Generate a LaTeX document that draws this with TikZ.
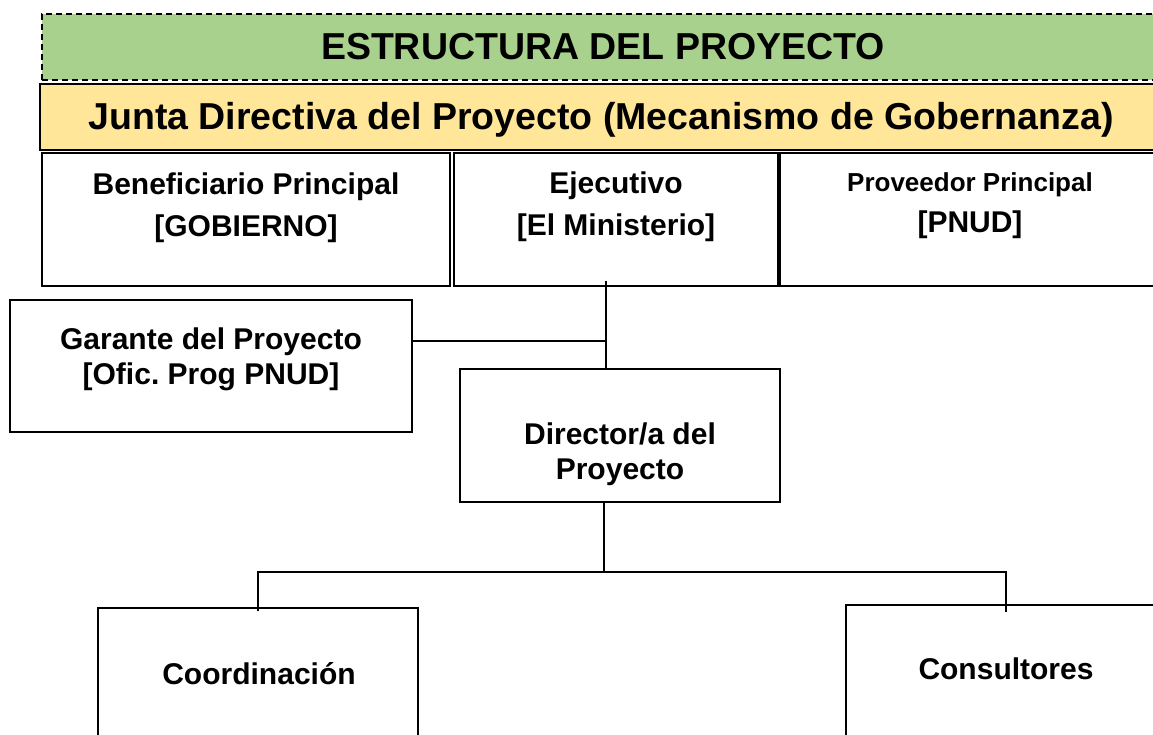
\documentclass[tikz,border=0pt]{standalone}
\usepackage{fontspec}
\setmainfont{Liberation Sans}
\frenchspacing
\definecolor{verde}{HTML}{A9D18E}
\definecolor{amarillo}{HTML}{FFE699}

\begin{document}
\begin{tikzpicture}[x=1pt, y=-1pt, line width=1.5pt, inner sep=0pt,
	box/.style={draw, rectangle, minimum width=320pt, minimum height=133pt},
	banner/.style={draw, rectangle, minimum width=1122pt, minimum height=66pt},
	big text/.style={anchor=base, font=\fontsize{37.5}{45}\selectfont\bfseries},
	box text/.style={anchor=north, align=center, font=\fontsize{30}{42}\selectfont\bfseries}]
	\useasboundingbox (0,0) rectangle (1153,735);
	% cabecera
	\node[banner, fill=verde, dash pattern=on 6pt off 4pt] (titulo) at (603,47) {};
	\node[big text] (titulo-t) at (603,60) {ESTRUCTURA DEL PROYECTO};
	\node[banner, fill=amarillo, line width=2.5pt] (junta) at (601,117) {};
	\node[big text] (junta-t) at (601,130) {Junta Directiva del Proyecto (Mecanismo de Gobernanza)};
	% junta directiva
	\node[box, minimum width=408pt] (benef) at (246,219.5) {};
	\node[box, minimum width=324pt] (ejec) at (616,219.5) {};
	\node[box, minimum width=380pt] (prov) at (970,219.5) {};
	\node[box text] (benef-t) at (246,172) {Beneficiario Principal\\{}[GOBIERNO]};
	\node[box text] (ejec-t) at (616,171) {Ejecutivo\\{}[El Ministerio]};
	\node[box text, font=\fontsize{30}{41}\selectfont\bfseries] (prov-t) at (970,172) {{\fontsize{26}{31}\selectfont Proveedor Principal}\\{}[PNUD]};
	% garante y director
	\node[box, minimum width=402pt, minimum height=132pt] (garante) at (211,366) {};
	\node[box text, font=\fontsize{30}{35}\selectfont\bfseries] (garante-t) at (211,327) {Garante del Proyecto\\{}[Ofic. Prog PNUD]};
	\node[box] (dir) at (620,435.5) {};
	\node[box text, font=\fontsize{30}{35}\selectfont\bfseries] (dir-t) at (620,422) {Director/a del\\Proyecto};
	% equipo
	\node[box] (coord) at (258,674.5) {};
	\node[box text, anchor=base] (coord-t) at (259,684) {Coordinaci\'on};
	\node[box] (cons) at (1006,671.5) {};
	\node[box text, anchor=base] (cons-t) at (1006,679) {Consultores};
	\coordinate (cruce) at (606,341);
	\coordinate (split) at (604,572);
	\draw ([xshift=-10pt, yshift=6pt]ejec.south) -- ([xshift=-14pt]dir.north);
	\draw ([yshift=25pt]garante.east) -- (cruce);
	\draw ([xshift=-16pt]dir.south) -- (split);
	\draw ([yshift=-4pt]coord.north) |- (split) -| ([yshift=-8pt]cons.north);
\end{tikzpicture}
\end{document}
